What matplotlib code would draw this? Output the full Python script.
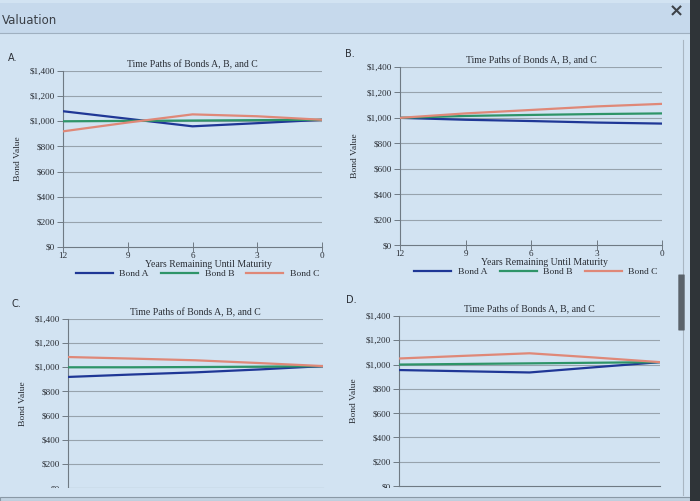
import matplotlib
matplotlib.use("Agg")
import matplotlib.pyplot as plt
from matplotlib.patches import Rectangle, FancyBboxPatch
from matplotlib.lines import Line2D

W, H = 700, 501

years = [12, 9, 6, 3, 0]
x_ticks = [12, 9, 6, 3, 0]
y_ticks = [0, 200, 400, 600, 800, 1000, 1200, 1400]
y_tick_labels = ["$0", "$200", "$400", "$600", "$800", "$1,000", "$1,200", "$1,400"]
bond_names = ["Bond A", "Bond B", "Bond C"]
bond_colors = ["#1f3796", "#2e9468", "#df8878"]

# values (Bond A, Bond B, Bond C)
panel_a = [
    [1080, 1020, 960, 985, 1012],
    [1000, 1003, 1006, 1009, 1012],
    [920, 990, 1055, 1040, 1012],
]
panel_b = [
    [1000, 985, 975, 963, 955],
    [1000, 1015, 1023, 1030, 1035],
    [1000, 1035, 1062, 1090, 1110],
]
panel_c = [
    [920, 940, 958, 982, 1010],
    [1000, 1000, 1002, 1005, 1010],
    [1085, 1072, 1058, 1035, 1010],
]
panel_d = [
    [955, 945, 935, 978, 1020],
    [1000, 1005, 1010, 1015, 1020],
    [1050, 1072, 1093, 1058, 1020],
]

BG = "#d2e3f2"
TXT = "#2a2e35"
GRID = "#97a3ad"
SERIF = ["Liberation Serif", "DejaVu Serif"]

fig = plt.figure(figsize=(W / 100, H / 100), dpi=100)
fig.patch.set_facecolor(BG)


def px_axes(left, top, width, height):
    return fig.add_axes([left / W, 1 - (top + height) / H, width / W, height / H])


def fig_text(x, y, s, **kw):
    fig.text(x / W, 1 - y / H, s, **kw)


def draw_panel(ax, series, show_x=True, label_x=0.55):
    ax.set_facecolor("none")
    for vals, name, col in zip(series, bond_names, bond_colors):
        ax.plot(years, vals, color=col, lw=1.6, label=name, zorder=3)
    ax.set_xlim(12, 0)
    ax.set_ylim(0, 1400)
    ax.set_yticks(y_ticks)
    ax.set_yticklabels(y_tick_labels, fontsize=6.6, family=SERIF, color=TXT)
    for v in y_ticks[1:]:
        ax.axhline(v, color=GRID, lw=0.8, zorder=1)
    for s in ["top", "right"]:
        ax.spines[s].set_visible(False)
    ax.spines["left"].set_color("#6f7a84")
    ax.spines["bottom"].set_color("#6f7a84")
    ax.spines["left"].set_linewidth(0.8)
    ax.spines["bottom"].set_linewidth(0.8)
    ax.tick_params(axis="y", length=4, width=0.7, color="#6f7a84", pad=2)
    ax.set_ylabel("Bond Value", fontsize=6.8, family=SERIF, color=TXT, labelpad=5)
    ax.set_title("Time Paths of Bonds A, B, and C", fontsize=7, family=SERIF,
                 color=TXT, pad=3)
    ax.set_xticks(x_ticks)
    if show_x:
        ax.set_xticklabels([str(v) for v in x_ticks], fontsize=6.6, family=SERIF,
                           color=TXT)
        ax.tick_params(axis="x", direction="inout", length=7, width=0.7,
                       color="#6f7a84", pad=0)
        ax.set_xlabel("Years Remaining Until Maturity", fontsize=7,
                      family=SERIF, color=TXT)
        ax.xaxis.set_label_coords(label_x, -0.075)
        ax.legend(loc="upper center", bbox_to_anchor=(0.52, -0.08), ncol=3,
                  frameon=False, handlelength=3.9, columnspacing=1.3,
                  handletextpad=0.7, prop={"family": SERIF, "size": 6.8},
                  labelcolor=TXT)
    else:
        ax.tick_params(axis="x", length=0, labelbottom=False)


ax_a = px_axes(63, 71, 259, 176)
draw_panel(ax_a, panel_a, label_x=0.56)
ax_b = px_axes(400, 67, 262, 178)
draw_panel(ax_b, panel_b, label_x=0.55)
ax_c = px_axes(68, 319, 255, 169)
draw_panel(ax_c, panel_c, show_x=False)
ax_d = px_axes(399, 316, 261, 170)
draw_panel(ax_d, panel_d, show_x=False)

# panel letters
fig_text(8, 61, "A.", fontsize=7, color=TXT)
fig_text(345, 57, "B.", fontsize=7, color=TXT)
fig_text(11, 307, "C.", fontsize=7, color=TXT)
fig_text(346, 303, "D.", fontsize=7, color=TXT)

# header band
fig.add_artist(Rectangle((0, 1 - 33 / H), 690 / W, 30 / H, transform=fig.transFigure,
                         facecolor="#c6d9ec", edgecolor="none", zorder=0))
fig.add_artist(Line2D([0, 690 / W], [1 - 33 / H, 1 - 33 / H], color="#9fb0c0",
                      lw=0.8, transform=fig.transFigure))
fig_text(2, 20, "Valuation", fontsize=8.5, family="DejaVu Sans", color="#3a3f46",
         va="center")
fig_text(676, 11, "×", fontsize=13, fontweight="bold", family="DejaVu Sans",
         color="#3d4248", va="center", ha="center")

# bottom edge of the page panel (covers the cut-off x axes)
fig.add_artist(Rectangle((0, 4 / H), 690 / W, 9 / H, transform=fig.transFigure,
                         facecolor=BG, edgecolor="none", zorder=10))
fig.add_artist(Rectangle((0, 0), 690 / W, 4 / H, transform=fig.transFigure,
                         facecolor="#c2d3e2", edgecolor="#8a99a6", lw=0.8, zorder=10))

# scrollbar and dark screen edge
fig.add_artist(Line2D([683 / W, 683 / W], [1 - 40 / H, 1 - 495 / H], color="#a9b6c2",
                      lw=0.8, transform=fig.transFigure, zorder=10))
fig.add_artist(FancyBboxPatch((679 / W, 1 - 330 / H), 5 / W, 55 / H,
                              boxstyle="round,pad=0.001", transform=fig.transFigure,
                              facecolor="#5b636b", edgecolor="none", zorder=11))
fig.add_artist(Rectangle((690 / W, 0), 10 / W, 1, transform=fig.transFigure,
                         facecolor="#2f3438", edgecolor="none", zorder=12))

fig.savefig("out.png", dpi=100, facecolor=fig.get_facecolor())
